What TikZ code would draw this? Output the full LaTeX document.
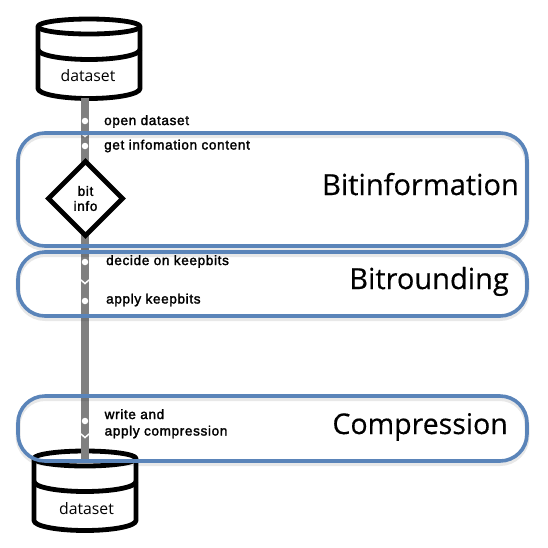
\documentclass[tikz,border=0pt]{standalone}
\usepackage{fontspec}
\setmainfont{Open Sans}
\newfontfamily\labelfont[FakeBold=2,LetterSpace=5]{Liberation Sans}
\newfontfamily\bandfont[FakeBold=0.4]{Open Sans}
\usetikzlibrary{shapes.geometric}
\definecolor{bandblue}{HTML}{5A84B9}
\definecolor{flowgray}{HTML}{808080}
\tikzset{
  x=1pt,y=-1pt,
  band/.style={draw=bandblue,line width=3.6pt,rounded corners=27pt},
  bandshadow/.style={draw=black,opacity=0.09,line width=5pt,rounded corners=27pt},
  bandtext/.style={inner sep=0pt,anchor=base east,font=\bandfont\fontsize{29}{33}\selectfont,text=black},
  flowbar/.style={draw=flowgray,line width=8pt},
  dotmark/.style={circle,fill=white,draw=none,inner sep=0pt,minimum size=6.5pt},
  chev/.style={draw=white,line width=1.5pt},
  steptext/.style={inner sep=0pt,anchor=base west,align=left,font=\labelfont\fontsize{13.5}{17}\selectfont,text=black},
  dstext/.style={inner sep=0pt,font=\fontsize{15.8}{18}\selectfont,text=black},
  cyl/.style={draw=black,line width=4.8pt,fill=white,line join=round},
  decision/.style={diamond,draw=black,fill=white,line width=4.8pt,minimum width=76pt,minimum height=76pt,inner sep=0pt,aspect=1,align=center,font=\labelfont\fontsize{13.5}{16}\selectfont},
  pics/dbcyl/.style={code={
    \path[cyl] (-51,0) -- (-51,62) arc[start angle=180,end angle=360,x radius=51,y radius=-10] -- (51,0) arc[start angle=0,end angle=180,x radius=51,y radius=-7.5] -- cycle;
    \draw[cyl,fill=none] (-51,0) arc[start angle=180,end angle=360,x radius=51,y radius=-7.5];
    \draw[cyl,fill=none] (-51,23) arc[start angle=180,end angle=360,x radius=51,y radius=-10];
  }}
}
\begin{document}
\begin{tikzpicture}
\useasboundingbox[fill=white] (0,0) rectangle (548,547);
% cylinders
\pic at (89,26.5) {dbcyl};
\pic at (85,458.5) {dbcyl};
\node[dstext] (dsa) at (88,76) {dataset};
\node[dstext] (dsb) at (86.5,509) {dataset};
\coordinate (topout) at (85,98);
\coordinate (botin) at (85,459);
% flow bar
\draw[flowbar] (topout) -- (botin);
% decision
\node[decision] (bit) at (85.5,198.5) {bit\\[-1pt]info};
% dots
\node[dotmark] (d1) at (85,121) {};
\node[dotmark] (d2) at (85,146) {};
\node[dotmark] (d3) at (85,262) {};
\node[dotmark] (d4) at (85,301) {};
\node[dotmark] (d5) at (85,421) {};
% chevrons
\draw[chev] (81,133) -- (85,136.5) -- (89,133);
\draw[chev] (81,280) -- (85,283.5) -- (89,280);
\draw[chev] (81,434) -- (85,437.5) -- (89,434);
% band shadows
\draw[bandshadow] (18,135.5) rectangle (527,248.5);
\draw[bandshadow] (18,254.5) rectangle (527,318.5);
\draw[bandshadow] (18,398.5) rectangle (527,463.5);
% bands
\draw[band] (18,133) rectangle (527,246);
\draw[band] (18,252) rectangle (527,316);
\draw[band] (18,396) rectangle (527,461);
% band labels
\node[bandtext] (lb1) at (519,195) {Bitinformation};
\node[bandtext] (lb2) at (509,289) {Bitrounding};
\node[bandtext,font=\bandfont\fontsize{28.5}{33}\selectfont] (lb3) at (508,434) {Compression};
% step labels
\node[steptext] (s1) at (104,125) {open dataset};
\node[steptext] (s2) at (104,149.5) {get infomation content};
\node[steptext] (s3) at (106,265) {decide on keepbits};
\node[steptext] (s4) at (106,303.5) {apply keepbits};
\node[steptext] (s5) at (104.5,419) {write and};
\node[steptext] (s6) at (104.5,435.5) {apply compression};
\end{tikzpicture}
\end{document}
